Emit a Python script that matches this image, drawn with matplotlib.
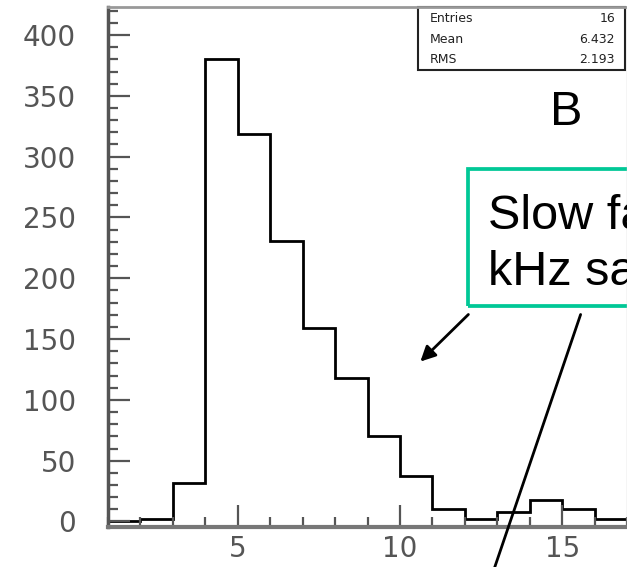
import matplotlib
matplotlib.use('Agg')
import matplotlib.pyplot as plt
from matplotlib.patches import Rectangle
from matplotlib.ticker import MultipleLocator

# histogram contents, one value per unit-wide bin
bin_edges = [1, 2, 3, 4, 5, 6, 7, 8, 9, 10, 11, 12, 13, 14, 15, 16, 17]
counts = [0, 2, 32, 380, 319, 231, 159, 118, 70, 37, 10, 2, 8, 18, 10, 2]

stat_names = ['Entries', 'Mean', 'RMS']
stat_values = ['16', '6.432', '2.193']

panel_label = 'B'
note_lines = ['Slow fa', 'kHz sa']

fig = plt.figure(figsize=(6.27, 5.67), dpi=100)
ax = fig.add_axes([108 / 627, 1 - 526.7 / 567, 519 / 627, 519.4 / 567])

ax.stairs(counts, bin_edges, color='black', lw=2, baseline=0)
ax.set_xlim(1, 17)
ax.set_ylim(-4.3, 422.8)

ax.xaxis.set_major_locator(MultipleLocator(5))
ax.xaxis.set_minor_locator(MultipleLocator(1))
ax.yaxis.set_major_locator(MultipleLocator(50))
ax.yaxis.set_minor_locator(MultipleLocator(10))
ax.tick_params(which='both', direction='in', colors='#555555', width=1.6)
ax.tick_params(which='major', length=15.5)
ax.tick_params(which='minor', length=7.5)
ax.tick_params(axis='y', which='major', pad=23, labelsize=20, labelcolor='#555555')
ax.tick_params(axis='x', which='major', pad=6, labelsize=20, labelcolor='#555555')

ax.spines['left'].set_color('#555555')
ax.spines['left'].set_linewidth(2.5)
ax.spines['bottom'].set_color('#777777')
ax.spines['bottom'].set_linewidth(3)
ax.spines['top'].set_color('#999999')
ax.spines['top'].set_linewidth(2)
ax.spines['right'].set_color('#cccccc')
ax.spines['right'].set_linewidth(1)

# statistics box in the top right corner
ax.add_patch(Rectangle((0.597, 0.879), 0.399, 0.121, transform=ax.transAxes,
                       fill=False, edgecolor='#222222', lw=1.5, clip_on=False))
for i, (name, val) in enumerate(zip(stat_names, stat_values)):
    y = 0.9775 - i * 0.0393
    ax.text(0.620, y, name, transform=ax.transAxes, fontsize=9, va='center', ha='left', color='#222222')
    ax.text(0.977, y, val, transform=ax.transAxes, fontsize=9, va='center', ha='right', color='#222222')

ax.text(15.14, 336, panel_label, fontsize=35, family='Liberation Sans', ha='center', va='center')

# green note box, cut off by the right edge like the slide it came from
ax.add_patch(Rectangle((12.1, 176.8), 6, 112.9, fill=False, edgecolor='#00c896', lw=2.7, clip_on=False))
ax.text(12.73, 240.3, note_lines[0], fontsize=35, family='Liberation Sans', va='baseline', ha='left', clip_on=False)
ax.text(12.73, 194.7, note_lines[1], fontsize=35, family='Liberation Sans', va='baseline', ha='left', clip_on=False)

ax.annotate('', xy=(10.63, 131.5), xytext=(12.11, 170.2), annotation_clip=False,
            arrowprops=dict(arrowstyle='-|>,head_length=0.9,head_width=0.45', color='black', lw=2,
                            shrinkA=0, shrinkB=0))
ax.annotate('', xy=(12.79, -48), xytext=(15.57, 170.2), annotation_clip=False,
            arrowprops=dict(arrowstyle='-', color='black', lw=2, shrinkA=0, shrinkB=0))

fig.savefig('out.png', dpi=100)
